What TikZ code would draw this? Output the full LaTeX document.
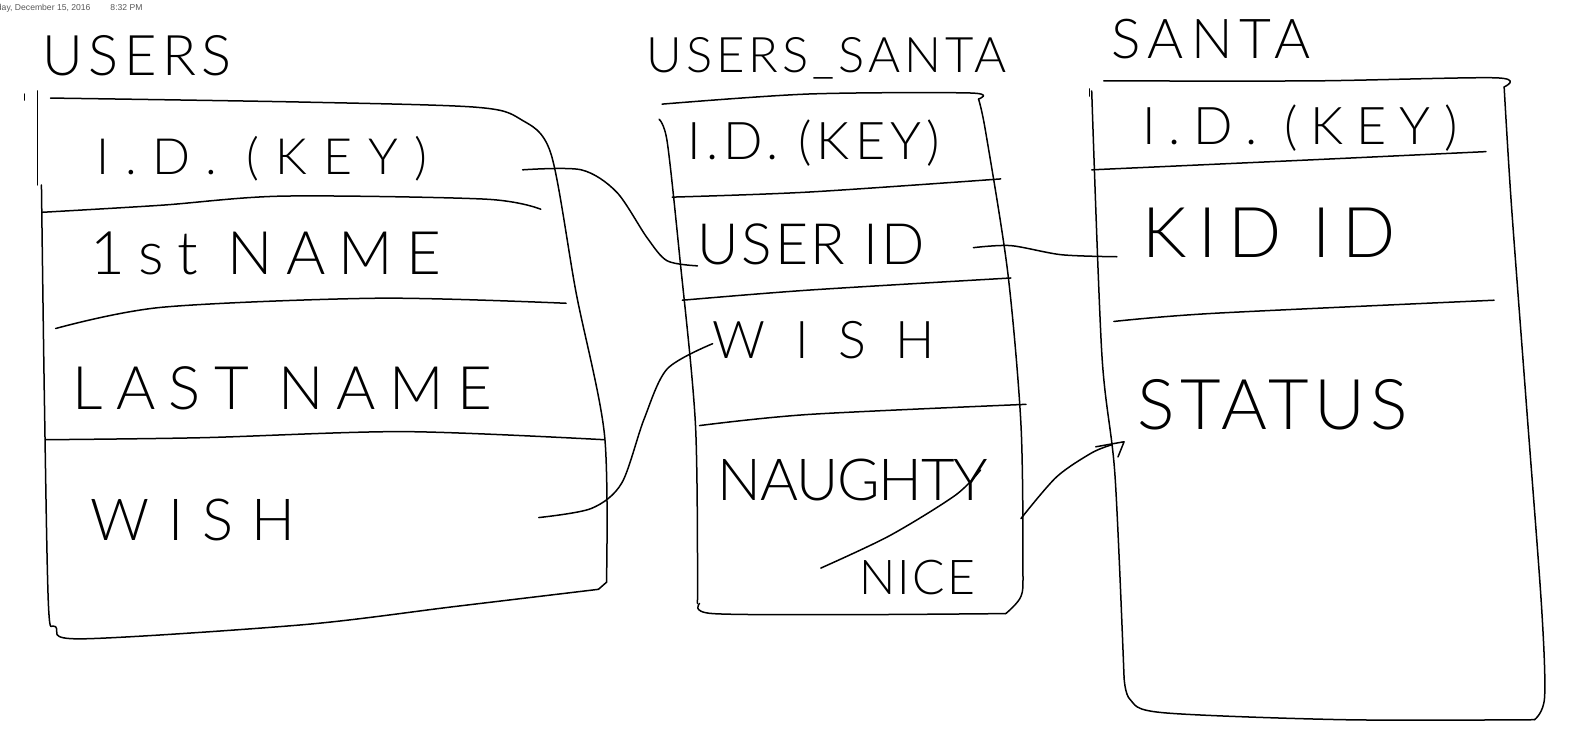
\documentclass[tikz,border=0pt]{standalone}
\usepackage{fontspec}
\setmainfont{Liberation Sans}
\newfontfamily\thin{Lato Light}
\usetikzlibrary{arrows.meta}
\newcommand\hw[2]{\thin\fontsize{#1}{#1}\selectfont\addfontfeature{LetterSpace=#2}}
\begin{document}
\begin{tikzpicture}[x=1.011pt,y=-1.011pt,
  pen/.style={line width=1.5pt, line cap=round, line join=round},
  conn/.style={pen},
  txt/.style={anchor=base west, inner sep=0pt, outer sep=0pt},
  hand/.style={smooth, tension=0.5}]
\useasboundingbox (0,0) rectangle (1568,731);
\fill[white] (0,0) rectangle (1568,731);

% date stamp
\node[txt, font=\fontsize{8.6}{9}\selectfont, text=black!65] (date) at (-3,10) {day, December 15, 2016\hspace{20pt}8:32 PM};

% ---------------- USERS ----------------
\node[txt, font=\hw{56}{10}] (tU) at (42,75) {USERS};
\draw[pen] (24,93) -- (24,99);
\draw[pen] (37,90) -- (37,183);
\draw[pen] plot[hand] coordinates {(41,183) (44,400) (48,600) (55,620) (80,632) (300,618) (450,600) (592,583)};
\draw[pen] (592,583) -- (600,576);
\draw[pen] plot[hand] coordinates {(50,97) (300,101) (470,106) (515,118) (545,152) (570,290) (598,430) (600,576)};
\draw[pen] plot[hand] coordinates {(42,210) (160,203) (280,194) (480,197) (535,207)};
\draw[pen] plot[hand] coordinates {(55,325) (160,304) (375,295) (560,300)};
\draw[pen] plot[hand] coordinates {(45,435) (200,433) (400,427) (598,435)};
\node[txt, font=\hw{50}{32}] (uid) at (95,173) {I.D. (KEY)};
\node[txt, font=\hw{60}{22}] (ufirst) at (90,272) {1st NAME};
\node[txt, font=\hw{60}{22}] (ulast) at (72,405) {LAST NAME};
\node[txt, font=\hw{58}{32}] (uwish) at (90,535) {WISH};

% ---------------- USERS_SANTA ----------------
\node[txt, font=\hw{49}{8}] (tUS) at (640,72) {USERS\_SANTA};
\draw[pen] plot[hand] coordinates {(655,103) (800,93) (960,92) (968,98)};
\draw[pen] plot[hand] coordinates {(968,98) (975,130) (997,270) (1010,420) (1012,560) (1010,590) (995,607)};
\draw[pen] plot[hand] coordinates {(995,607) (850,608) (705,607) (692,597)};
\draw[pen] plot[hand] coordinates {(652,118) (660,140) (672,250) (688,420) (690,597)};
\draw[pen] plot[hand] coordinates {(665,195) (800,190) (990,177)};
\draw[pen] plot[hand] coordinates {(675,297) (800,287) (1000,275)};
\draw[pen] plot[hand] coordinates {(692,421) (800,410) (1015,400)};
\node[txt, font=\hw{52}{10}] (usid) at (680,158) {I.D. (KEY)};
\node[txt, font=\hw{57}{5}] (ususer) at (690,262) {USER ID};
\node[txt, font=\hw{52}{57}] (uswish) at (705,355) {WISH};
\node[txt, font=\hw{58}{-2}] (usnaughty) at (710,495) {NAUGHTY};
\node[txt, font=\hw{48}{5}] (usnice) at (850,588) {NICE};
\draw[pen] plot[hand] coordinates {(812,562) (880,530) (945,490) (970,465)};

% ---------------- SANTA ----------------
\node[txt, font=\hw{55}{13}] (tS) at (1100,58) {SANTA};
\draw[pen] (1078,88) -- (1078,95);
\draw[pen] plot[hand] coordinates {(1092,80) (1300,80) (1480,77) (1488,86)};
\draw[pen] plot[hand] coordinates {(1488,86) (1495,200) (1510,400) (1525,600) (1528,690) (1518,712)};
\draw[pen] plot[hand] coordinates {(1518,712) (1330,712) (1150,705) (1118,692) (1112,670)};
\draw[pen] plot[hand] coordinates {(1080,90) (1090,350) (1103,470) (1112,670)};
\draw[pen] plot[hand] coordinates {(1080,168) (1300,158) (1470,150)};
\draw[pen] plot[hand] coordinates {(1102,318) (1200,310) (1478,297)};
\node[txt, font=\hw{52}{25}] (sid) at (1130,143) {I.D. (KEY)};
\node[txt, font=\hw{70}{17}] (skid) at (1130,255) {KID ID};
\node[txt, font=\hw{70}{8}] (sstatus) at (1125,425) {STATUS};

% ---------------- connectors ----------------
\coordinate (c1a) at (517,168);
\coordinate (c1b) at (690,263);
\coordinate (c2a) at (533,512);
\coordinate (c2b) at (705,340);
\coordinate (c3a) at (963,245);
\coordinate (c3b) at (1105,254);
\coordinate (c4a) at (1010,513);
\coordinate (c4b) at (1112,437);
\draw[conn] plot[hand] coordinates {(c1a) (575,168) (610,190) (640,235) (660,258) (c1b)};
\draw[conn] plot[hand] coordinates {(c2a) (585,503) (615,478) (637,415) (660,365) (c2b)};
\draw[conn] plot[hand] coordinates {(c3a) (1000,243) (1050,252) (c3b)};
\draw[conn] plot[hand] coordinates {(c4a) (1045,472) (1080,448) (1100,440)};
\draw[conn] (1084,442) -- (c4b) -- (1106,452);
\end{tikzpicture}
\end{document}
